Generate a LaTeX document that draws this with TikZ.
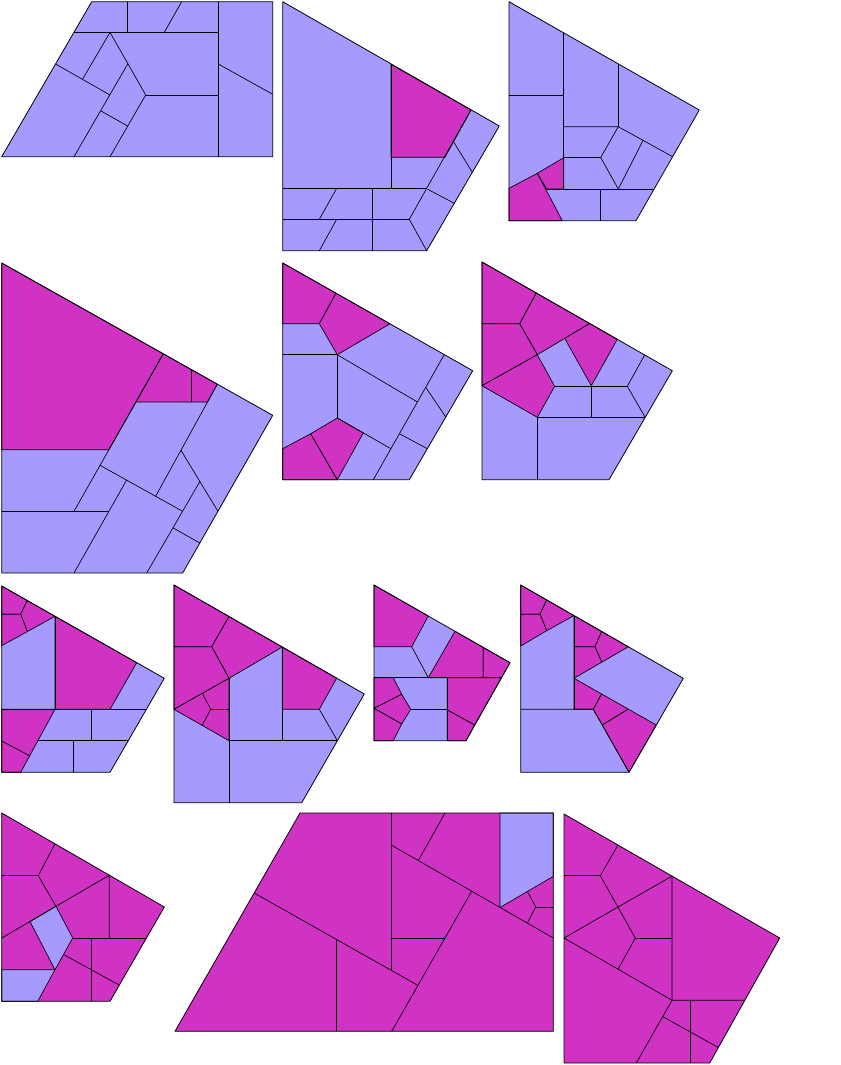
\documentclass[tikz,border=0pt]{standalone}
\usepackage{xcolor}
\usepackage{tikz}
\definecolor{lilac}{RGB}{165,155,255}
\definecolor{orchid}{RGB}{208,51,196}
\tikzset{
  rim/.style={draw=black, line width=0.6pt, line join=round},
  seam/.style={draw=black, line width=0.5pt},
  cold/.style={fill=lilac},
  hot/.style={fill=orchid, draw=black, line width=0.5pt, line join=round},
}
\begin{document}
\begin{tikzpicture}[x=0.75pt, y=-0.75pt]
    \useasboundingbox (0,0) rectangle (840,1065);

    % Panel 1
    \fill[cold] (91.7,1.7) -- (272.7,1.7) -- (272.7,156.7) -- (1.7,156.7) -- cycle;
    \draw[seam] (218.3,1.7) -- (218.3,156.7);
    \draw[seam] (74,32.3) -- (218.3,32.3);
    \draw[seam] (127.7,1.7) -- (127.7,32.3);
    \draw[seam] (181.7,1.7) -- (164.3,32.3);
    \draw[seam] (218.3,64) -- (272.7,94.3);
    \draw[seam] (110,32.3) -- (145.7,95) -- (110,156.7);
    \draw[seam] (145.7,95) -- (218.3,95);
    \draw[seam] (110,32.3) -- (82.7,79);
    \draw[seam] (55.5,64) -- (110,95);
    \draw[seam] (127.7,64) -- (74,156.7);
    \draw[seam] (101,111) -- (127.7,126);
    \draw[rim] (91.7,1.7) -- (272.7,1.7) -- (272.7,156.7) -- (1.7,156.7) -- cycle;

    % Panel 2
    \fill[cold] (282.7,1.7) -- (499.3,126) -- (426.7,250.7) -- (282.7,250.7) -- cycle;
    \filldraw[hot] (391,64.3) -- (471,110) -- (445,157.3) -- (391,157.3) -- cycle;
    \draw[seam] (391,64.3) -- (391,188.3);
    \draw[seam] (471,110) -- (426.7,188.3) -- (409.3,219.3) -- (426.7,250.7);
    \draw[seam] (453.5,141.7) -- (472.3,172.3);
    \draw[seam] (427.7,189.3) -- (454.3,203.3);
    \draw[seam] (282.7,188.3) -- (426.7,188.3);
    \draw[seam] (282.7,219.3) -- (409.3,219.3);
    \draw[seam] (372.3,188.3) -- (372.3,250.7);
    \draw[seam] (336.7,188.3) -- (319.3,219.3);
    \draw[seam] (336.7,219.3) -- (319.3,250.7);
    \draw[rim] (282.7,1.7) -- (499.3,126) -- (426.7,250.7) -- (282.7,250.7) -- cycle;

    % Panel 3
    \fill[cold] (509,1.7) -- (699.3,110) -- (636,220.7) -- (509,220.7) -- cycle;
    \filldraw[hot] (509,188.3) -- (537.3,173.3) -- (562.3,220.7) -- (509,220.7) -- cycle;
    \filldraw[hot] (537.3,173.3) -- (563.7,157.7) -- (563.7,189) -- (546.7,189) -- cycle;
    \draw[seam] (563.7,32.8) -- (563.7,189);
    \draw[seam] (509,95) -- (563.7,95);
    \draw[seam] (618.3,63.9) -- (618.3,126.7);
    \draw[seam] (563.7,126.7) -- (618.3,126.7) -- (672.6,156.7);
    \draw[seam] (563.7,157.5) -- (600.7,157.5);
    \draw[seam] (618.3,126.7) -- (600.7,157.5) -- (618.3,189);
    \draw[seam] (643,140.5) -- (618.3,189);
    \draw[seam] (546.7,189) -- (654,189);
    \draw[seam] (600.7,189) -- (600.7,220.7);
    \draw[rim] (509,1.7) -- (699.3,110) -- (636,220.7) -- (509,220.7) -- cycle;

    % Panel 4
    \fill[cold] (1.7,263) -- (272.7,415.3) -- (182.7,573) -- (1.7,573) -- cycle;
    \filldraw[hot] (1.7,263) -- (163.3,353.8) -- (108.9,449.7) -- (1.7,449.7) -- cycle;
    \filldraw[hot] (163.3,353.8) -- (217.3,384.2) -- (207.5,402) -- (136,402) -- cycle;
    \draw[seam] (191,369.4) -- (191,402);
    \draw[seam] (163.3,353.8) -- (74,511.3);
    \draw[seam] (217.3,384.2) -- (155.5,496.5);
    \draw[seam] (181,450.3) -- (217.9,511.3);
    \draw[seam] (100,465.3) -- (182.6,511.3);
    \draw[seam] (200,481.3) -- (146.7,573);
    \draw[seam] (173.3,528) -- (199.8,543);
    \draw[seam] (126.7,479.9) -- (74,573);
    \draw[seam] (1.7,511.3) -- (109.2,511.3);
    \draw[rim] (1.7,263) -- (272.7,415.3) -- (182.7,573) -- (1.7,573) -- cycle;

    % Panel 5
    \fill[cold] (282.7,263) -- (472.7,370.7) -- (409.3,479.7) -- (282.7,479.7) -- cycle;
    \filldraw[hot] (282.7,263) -- (336,293.2) -- (319.3,323.7) -- (282.7,323.7) -- cycle;
    \filldraw[hot] (336,293.2) -- (390,323.8) -- (337.3,354.7) -- (319.3,323.7) -- cycle;
    \filldraw[hot] (282.7,448.7) -- (310.7,433.7) -- (337.3,479.7) -- (282.7,479.7) -- cycle;
    \filldraw[hot] (310.7,433.7) -- (337.3,418) -- (363.3,433) -- (337.3,479.7) -- cycle;
    \draw[seam] (282.7,354.7) -- (337.3,354.7) -- (337.3,418);
    \draw[seam] (337.3,354.7) -- (417.4,402);
    \draw[seam] (444.3,354.6) -- (373.3,479.7);
    \draw[seam] (425.7,387.3) -- (445.8,417);
    \draw[seam] (399.4,433.7) -- (427.3,448.7);
    \draw[seam] (337.3,418) -- (390.9,448.7);
    \draw[rim] (282.7,263) -- (472.7,370.7) -- (409.3,479.7) -- (282.7,479.7) -- cycle;

    % Panel 6
    \fill[cold] (482,262) -- (672.3,370.7) -- (609,479.7) -- (482,479.7) -- cycle;
    \filldraw[hot] (482,262) -- (536.3,293) -- (519.7,323.7) -- (482,323.7) -- cycle;
    \filldraw[hot] (536.3,293) -- (589.7,323.5) -- (537.3,354.7) -- (519.7,323.7) -- cycle;
    \filldraw[hot] (482,323.7) -- (519.7,323.7) -- (537.3,354.7) -- (482,385.7) -- cycle;
    \filldraw[hot] (482,385.7) -- (537.3,354.7) -- (554.7,386.3) -- (537.3,417.3) -- cycle;
    \filldraw[hot] (589.7,323.5) -- (617.3,339.3) -- (591.3,385.7) -- (564.7,338.4) -- cycle;
    \draw[seam] (537.3,417.3) -- (537.3,479.7);
    \draw[seam] (537.3,417.3) -- (645.2,417.3);
    \draw[seam] (554.7,386.3) -- (627.3,386.3);
    \draw[seam] (591.3,385.7) -- (591.3,417.3);
    \draw[seam] (644.7,354.9) -- (627.3,386.3) -- (645.2,417.3);
    \draw[rim] (482,262) -- (672.3,370.7) -- (609,479.7) -- (482,479.7) -- cycle;

    % Panel 7
    \fill[cold] (1.7,586) -- (164.3,678.3) -- (110,772.3) -- (1.7,772.3) -- cycle;
    \filldraw[hot] (1.7,586) -- (27.3,600.5) -- (20.7,614.3) -- (1.7,614.3) -- cycle;
    \filldraw[hot] (27.3,600.5) -- (55,616.3) -- (27.3,631.6) -- (20.7,614.3) -- cycle;
    \filldraw[hot] (1.7,614.3) -- (20.7,614.3) -- (27.3,631.6) -- (1.7,645.7) -- cycle;
    \filldraw[hot] (55,616.3) -- (136.7,662.7) -- (110,709.3) -- (55,709.3) -- cycle;
    \filldraw[hot] (1.7,709.3) -- (55,709.3) -- (20.7,772.3) -- (1.7,772.3) -- cycle;
    \draw[seam] (1.7,741) -- (29.5,755.7);
    \draw[seam] (55,616.3) -- (55,709.3);
    \draw[seam] (1.7,709.3) -- (146.4,709.3);
    \draw[seam] (37.9,740.7) -- (128.3,740.7);
    \draw[seam] (91.7,709.3) -- (91.7,740.7);
    \draw[seam] (73.3,740.7) -- (73.3,772.3);
    \draw[rim] (1.7,586) -- (164.3,678.3) -- (110,772.3) -- (1.7,772.3) -- cycle;

    % Panel 8
    \fill[cold] (174,585) -- (364.3,694) -- (301.7,802.7) -- (174,802.7) -- cycle;
    \filldraw[hot] (174,585) -- (229,616.5) -- (211.7,646.7) -- (174,646.7) -- cycle;
    \filldraw[hot] (229,616.5) -- (282.3,647) -- (229,678.3) -- (211.7,646.7) -- cycle;
    \filldraw[hot] (174,646.7) -- (211.7,646.7) -- (229,678.3) -- (174,709.3) -- cycle;
    \filldraw[hot] (174,709.3) -- (229,678.3) -- (229,740.7) -- cycle;
    \filldraw[hot] (282.3,647) -- (336.7,678.2) -- (319.3,709.3) -- (282.3,709.3) -- cycle;
    \draw[seam] (202.3,693.3) -- (210.7,709.3) -- (202.3,725);
    \draw[seam] (210.7,709.3) -- (229,709.3);
    \draw[seam] (229,678.3) -- (229,802.7);
    \draw[seam] (282.3,647) -- (282.3,740.7);
    \draw[seam] (319.3,709.3) -- (337.4,740.7);
    \draw[seam] (229,740.7) -- (337.4,740.7);
    \draw[rim] (174,585) -- (364.3,694) -- (301.7,802.7) -- (174,802.7) -- cycle;

    % Panel 9
    \fill[cold] (374,585) -- (510,662.7) -- (466,740.7) -- (374,740.7) -- cycle;
    \filldraw[hot] (374,585) -- (428.3,616) -- (411.7,646.7) -- (374,646.7) -- cycle;
    \filldraw[hot] (455,631.3) -- (483.3,647.4) -- (483.3,677.7) -- (428.3,677.7) -- cycle;
    \filldraw[hot] (483.3,647.4) -- (510,662.7) -- (501.5,677.7) -- (483.3,677.7) -- cycle;
    \filldraw[hot] (374,677.7) -- (393.3,677.7) -- (401.7,694.3) -- (374,708.3) -- cycle;
    \filldraw[hot] (401.7,694.3) -- (410.7,709.3) -- (401.7,724) -- (374,708.3) -- cycle;
    \filldraw[hot] (374,708.3) -- (401.7,724) -- (393.3,740.7) -- (374,740.7) -- cycle;
    \filldraw[hot] (447.3,677.7) -- (501.5,677.7) -- (474.6,725) -- (447.3,710) -- cycle;
    \filldraw[hot] (447.3,710) -- (474.6,725) -- (466,740.7) -- (447.3,740.7) -- cycle;
    \draw[seam] (411.7,646.7) -- (428.3,677.7);
    \draw[seam] (374,677.7) -- (501.5,677.7);
    \draw[seam] (410.7,709.3) -- (447.3,709.3);
    \draw[seam] (447.3,677.7) -- (447.3,740.7);
    \draw[rim] (374,585) -- (510,662.7) -- (466,740.7) -- (374,740.7) -- cycle;

    % Panel 10
    \fill[cold] (520.7,585) -- (683.3,678.3) -- (629,772.3) -- (520.7,772.3) -- cycle;
    \filldraw[hot] (520.7,585) -- (546.7,600) -- (540,614.3) -- (520.7,614.3) -- cycle;
    \filldraw[hot] (546.7,600) -- (574,615.6) -- (546.7,630.7) -- (540,614.3) -- cycle;
    \filldraw[hot] (520.7,614.3) -- (540,614.3) -- (546.7,630.7) -- (520.7,646) -- cycle;
    \filldraw[hot] (574,615.6) -- (601.7,631.5) -- (595,646.7) -- (574,646.7) -- cycle;
    \filldraw[hot] (601.7,631.5) -- (628.3,646.8) -- (601.7,662.2) -- (595,646.7) -- cycle;
    \filldraw[hot] (574,646.7) -- (595,646.7) -- (601.7,662.2) -- (574,678.3) -- cycle;
    \filldraw[hot] (574,678.3) -- (601.7,694) -- (593.3,709.3) -- (574,709.3) -- cycle;
    \filldraw[hot] (601.7,694) -- (628.3,709.1) -- (602.3,725) -- (593.3,709.3) -- cycle;
    \filldraw[hot] (602.3,725) -- (628.3,709.1) -- (656.3,725) -- (629,772.3) -- cycle;
    \draw[seam] (574,615.6) -- (574,709.3);
    \draw[seam] (520.7,709.3) -- (593.3,709.3) -- (629,772.3);
    \draw[rim] (520.7,585) -- (683.3,678.3) -- (629,772.3) -- (520.7,772.3) -- cycle;

    % Panel 11
    \fill[orchid] (1.7,813) -- (164.3,907) -- (110,1001.3) -- (1.7,1001.3) -- cycle;
    \filldraw[cold, seam] (56,906.3) -- (72.7,938) -- (55,969.7) -- (30,921.5) -- cycle;
    \filldraw[cold, seam] (1.7,969.7) -- (55,969.7) -- (37.7,1001.3) -- (1.7,1001.3) -- cycle;
    \draw[seam] (55,843.8) -- (38.3,875.7) -- (56,906.3);
    \draw[seam] (1.7,875.7) -- (38.3,875.7);
    \draw[seam] (1.7,938) -- (109.3,875.2) -- (109.3,938);
    \draw[seam] (72.7,938) -- (145.5,938);
    \draw[seam] (91.7,938) -- (91.7,1001.3);
    \draw[seam] (63.5,954.5) -- (118.6,984.7);
    \draw[rim] (1.7,813) -- (164.3,907) -- (110,1001.3) -- (1.7,1001.3) -- cycle;

    % Panel 12
    \fill[orchid] (300,813) -- (553.3,813) -- (553.3,1031.3) -- (175,1031.3) -- cycle;
    \filldraw[cold, seam] (500,813) -- (553.3,813) -- (553.3,876.3) -- (500,907.5) -- cycle;
    \draw[seam] (391.7,813) -- (391.7,970.6);
    \draw[seam] (254.2,893) -- (416.7,984.7);
    \draw[seam] (336.7,939.5) -- (336.7,1031.3);
    \draw[seam] (391.7,845.3) -- (553.3,938);
    \draw[seam] (445,813) -- (418.3,860.6);
    \draw[seam] (527.3,891.3) -- (535.7,907) -- (527.3,923.2);
    \draw[seam] (535.7,907) -- (553.3,907);
    \draw[seam] (471.7,891.2) -- (391.7,1031.3);
    \draw[seam] (391.7,938) -- (445,938);
    \draw[rim] (300,813) -- (553.3,813) -- (553.3,1031.3) -- (175,1031.3) -- cycle;

    % Panel 13
    \fill[orchid] (564,814) -- (779.7,938) -- (709.7,1063) -- (564,1063) -- cycle;
    \draw[seam] (618,845) -- (600.3,875.7) -- (635.3,938) -- (618,969.2);
    \draw[seam] (564,875.7) -- (600.3,875.7);
    \draw[seam] (564,938) -- (672,876.1) -- (672,1000.3);
    \draw[seam] (635.3,938) -- (672,938);
    \draw[seam] (564,938) -- (672,1000.3) -- (744.4,1000.3);
    \draw[seam] (690.3,1000.3) -- (690.3,1063);
    \draw[seam] (672,1000.3) -- (636.3,1063);
    \draw[seam] (662.5,1016.5) -- (718,1047.3);
    \draw[rim] (564,814) -- (779.7,938) -- (709.7,1063) -- (564,1063) -- cycle;
\end{tikzpicture}
\end{document}
